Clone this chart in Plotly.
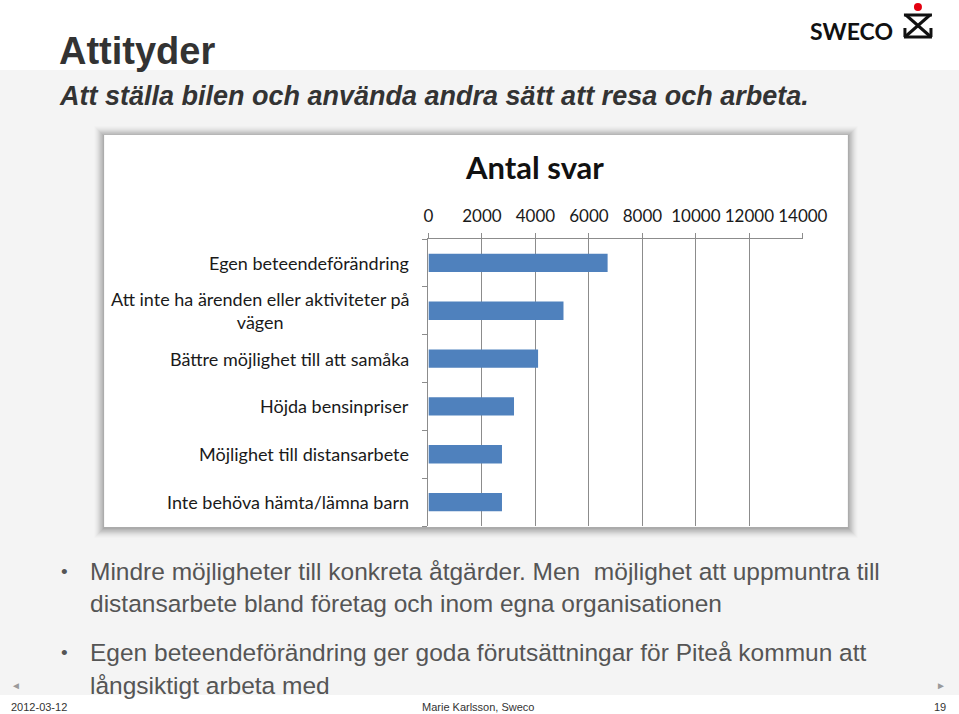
import plotly.graph_objects as go

categories = [
    "Egen beteendeförändring",
    "Att inte ha ärenden eller aktiviteter på<br>vägen",
    "Bättre möjlighet till att samåka",
    "Höjda bensinpriser",
    "Möjlighet till distansarbete",
    "Inte behöva hämta/lämna barn",
]
values = [6700, 5050, 4100, 3200, 2750, 2750]
tick_vals = [0, 2000, 4000, 6000, 8000, 10000, 12000, 14000]
tick_text = ["0", "2000", "4000", "6000", "8000", "10000", "12000", "14000"]

W, H = 959, 714
FIG_W = 990
X_SHIFT = 6

def px(x):
    return (x - X_SHIFT) / W

def py(y):
    return 1 - y / H

fig = go.Figure()
fig.add_trace(go.Bar(
    x=values, y=categories, orientation="h",
    marker=dict(color="#4F81BD", line=dict(width=0)),
    hoverinfo="x+y",
))

shapes = []
shapes.append(dict(type="rect", xref="paper", yref="paper", x0=-0.02, x1=1.02, y0=py(695), y1=py(70),
                   fillcolor="#f4f4f4", line=dict(width=0), layer="below"))
# soft shadow around the chart box
shadow_ops = [0.05, 0.05, 0.045, 0.04, 0.035, 0.03, 0.025, 0.02, 0.015, 0.01]
for i, op in enumerate(shadow_ops):
    d = i + 1
    shapes.append(dict(type="rect", xref="paper", yref="paper",
                       x0=px(105 - d), x1=px(848 + d), y0=py(527 + d + 1), y1=py(135 - d + 1),
                       fillcolor=f"rgba(0,0,0,{op})", line=dict(width=0), layer="below"))
shapes.append(dict(type="rect", xref="paper", yref="paper", x0=px(105), x1=px(848), y0=py(527), y1=py(135),
                   fillcolor="white", line=dict(width=0), layer="below"))

# SWECO logo symbol
lc = "#111111"
lw = 3
for (x0, y0, x1, y1) in [(904, 15, 932, 15), (906, 15, 931, 37), (930, 15, 905, 37),
                          (904, 37, 932, 37), (905, 28, 905, 37), (931, 28, 931, 37)]:
    shapes.append(dict(type="line", xref="paper", yref="paper", x0=px(x0), y0=py(y0), x1=px(x1), y1=py(y1),
                       line=dict(color=lc, width=lw)))
shapes.append(dict(type="circle", xref="paper", yref="paper", x0=px(914), x1=px(922), y0=py(11), y1=py(3),
                   fillcolor="#e3000f", line=dict(width=0)))

annotations = []
# category labels placed on the y axis categories
for c in categories:
    annotations.append(dict(text=c, x=px(412), xref="paper", y=c, yref="y", xanchor="right", yanchor="middle",
                            align="center", showarrow=False,
                            font=dict(family="Lato, Carlito, sans-serif", size=18, color="#1a1a1a")))

def txt(text, x, y, size, color="#333333", family="Liberation Sans, Arial, sans-serif", xanchor="left",
        yanchor="middle", bold=False, italic=False):
    t = text
    if bold:
        t = f"<b>{t}</b>"
    if italic:
        t = f"<i>{t}</i>"
    annotations.append(dict(text=t, x=px(x), y=py(y), xref="paper", yref="paper", xanchor=xanchor,
                            yanchor=yanchor, showarrow=False, font=dict(family=family, size=size, color=color)))

txt("Antal svar", 535, 167, 31, color="#111111", family="Lato, Carlito, sans-serif", xanchor="center", bold=True)
txt("Attityder", 58, 51, 38, bold=True)
txt("Att ställa bilen och använda andra sätt att resa och arbeta.", 58, 96, 27, bold=True, italic=True)
txt("SWECO", 808, 31, 23, color="#111111", family="Lato, sans-serif", bold=True)

bullet_color = "#555555"
bf = 24.5
txt("•", 60, 571, 19, color=bullet_color)
txt("Mindre möjligheter till konkreta åtgärder. Men  möjlighet att uppmuntra till", 89, 571, bf, color=bullet_color)
txt("distansarbete bland företag och inom egna organisationen", 89, 603, bf, color=bullet_color)
txt("•", 60, 652, 19, color=bullet_color)
txt("Egen beteendeförändring ger goda förutsättningar för Piteå kommun att", 89, 652, bf, color=bullet_color)
txt("långsiktigt arbeta med", 89, 685, bf, color=bullet_color)

txt("◄", 10, 685, 10, color="#9a9a9a")
txt("►", 948, 685, 10, color="#9a9a9a", xanchor="right")
txt("2012-03-12", 10, 707, 11, color="#333333")
txt("Marie Karlsson, Sweco", 479, 707, 11, color="#333333", xanchor="center")
txt("19", 948, 707, 11, color="#333333", xanchor="right")

fig.update_layout(
    width=FIG_W, height=H,
    margin=dict(l=0, r=0, t=0, b=0),
    paper_bgcolor="white", plot_bgcolor="white",
    showlegend=False,
    bargap=0.615,
    shapes=shapes,
    annotations=annotations,
    xaxis=dict(
        domain=[px(429), px(803)], range=[0, 14000], side="top",
        tickvals=tick_vals, ticktext=tick_text, tickangle=0,
        showgrid=True, gridcolor="#8c8c8c", gridwidth=1,
        showline=True, linecolor="#8c8c8c", linewidth=1,
        ticks="outside", ticklen=5, tickcolor="#8c8c8c", ticklabelstandoff=4,
        tickfont=dict(family="Lato, Carlito, sans-serif", size=17, color="#1a1a1a"),
        zeroline=False, fixedrange=True,
    ),
    yaxis=dict(
        domain=[py(526), py(239)],
        categoryorder="array", categoryarray=categories[::-1],
        showticklabels=False,
        showline=True, linecolor="#8c8c8c", linewidth=1,
        ticks="outside", ticklen=5, tickcolor="#8c8c8c", tickson="boundaries",
        showgrid=False, zeroline=False, fixedrange=True,
    ),
)

fig.write_html(
    "out.html",
    config={"responsive": False, "displayModeBar": False},
    post_script="document.body.style.margin='0';document.body.style.overflow='hidden';",
)
